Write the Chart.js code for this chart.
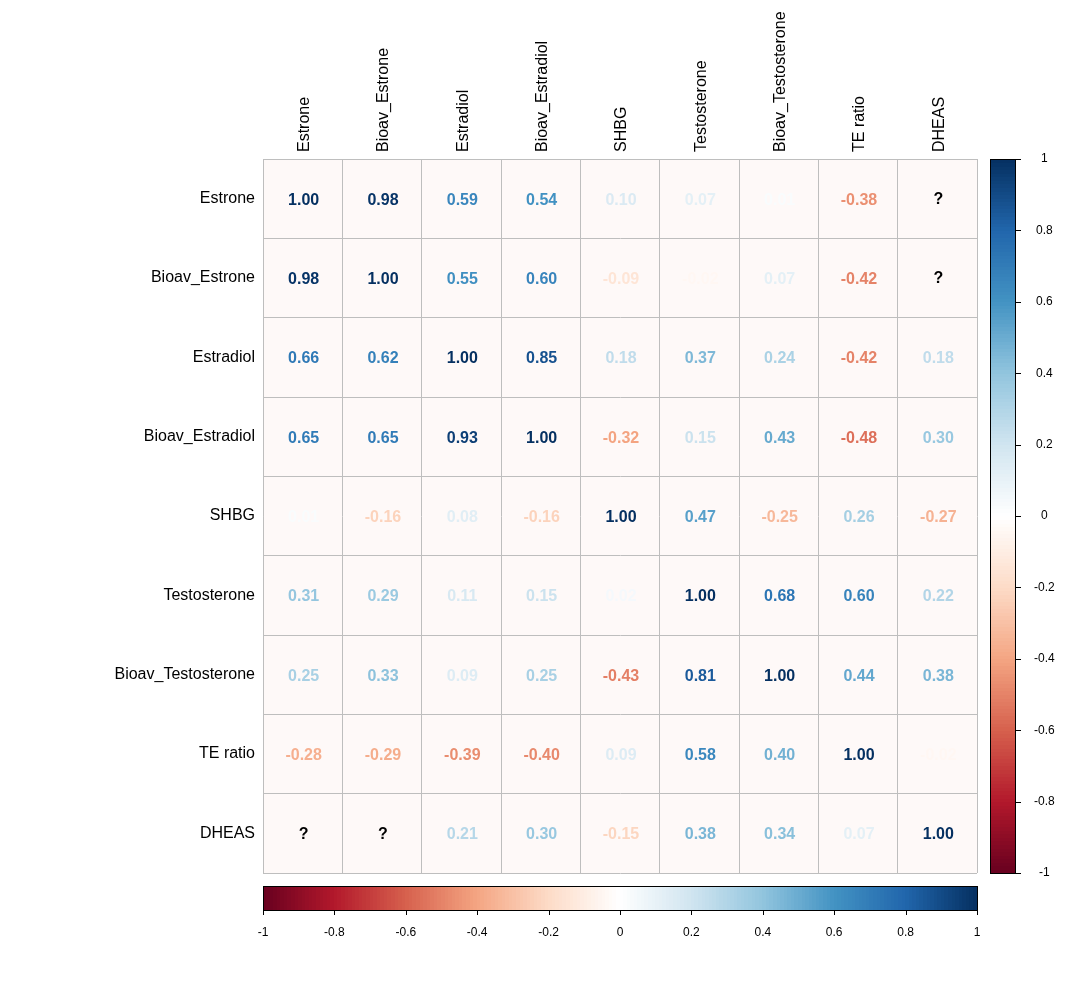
<!DOCTYPE html>
<html>
<head>
<meta charset="utf-8">
<script src="https://cdn.jsdelivr.net/npm/chart.js@4.4.1/dist/chart.umd.min.js"></script>
<style>
  html, body { margin: 0; padding: 0; background: #ffffff; }
  #wrap { width: 1092px; height: 984px; }
</style>
</head>
<body>
<div id="wrap"><canvas id="c" width="1092" height="984"></canvas></div>
<script>
// ---------- data ----------
const variables = ["Estrone", "Bioav_Estrone", "Estradiol", "Bioav_Estradiol", "SHBG",
                   "Testosterone", "Bioav_Testosterone", "TE ratio", "DHEAS"];

// one row of the correlation matrix per array (null = "?")
const rowEstrone           = [1.00, 0.98, 0.59, 0.54, 0.10, 0.07, 0.01, -0.38, null];
const rowBioavEstrone      = [0.98, 1.00, 0.55, 0.60, -0.09, -0.02, 0.07, -0.42, null];
const rowEstradiol         = [0.66, 0.62, 1.00, 0.85, 0.18, 0.37, 0.24, -0.42, 0.18];
const rowBioavEstradiol    = [0.65, 0.65, 0.93, 1.00, -0.32, 0.15, 0.43, -0.48, 0.30];
const rowSHBG              = [0.01, -0.16, 0.08, -0.16, 1.00, 0.47, -0.25, 0.26, -0.27];
const rowTestosterone      = [0.31, 0.29, 0.11, 0.15, 0.02, 1.00, 0.68, 0.60, 0.22];
const rowBioavTestosterone = [0.25, 0.33, 0.09, 0.25, -0.43, 0.81, 1.00, 0.44, 0.38];
const rowTERatio           = [-0.28, -0.29, -0.39, -0.40, 0.09, 0.58, 0.40, 1.00, -0.02];
const rowDHEAS             = [null, null, 0.21, 0.30, -0.15, 0.38, 0.34, 0.07, 1.00];

const matrixRows = [rowEstrone, rowBioavEstrone, rowEstradiol, rowBioavEstradiol, rowSHBG,
                    rowTestosterone, rowBioavTestosterone, rowTERatio, rowDHEAS];

const legendMin = -1, legendMax = 1, legendStep = 0.2;

// RdBu palette (corrplot COL2('RdBu'))
const paletteStops = ["#67001F", "#B2182B", "#D6604D", "#F4A582", "#FDDBC7", "#FFFFFF",
                      "#D1E5F0", "#92C5DE", "#4393C3", "#2166AC", "#053061"];

// ---------- helpers ----------
function hexToRgb(h) {
  return [parseInt(h.slice(1, 3), 16), parseInt(h.slice(3, 5), 16), parseInt(h.slice(5, 7), 16)];
}
const paletteRgb = paletteStops.map(hexToRgb);
function colorFor(v) {
  const t = Math.max(0, Math.min(1, (v - legendMin) / (legendMax - legendMin))) * (paletteRgb.length - 1);
  const i = Math.min(paletteRgb.length - 2, Math.floor(t));
  const f = t - i;
  const a = paletteRgb[i], b = paletteRgb[i + 1];
  const c = a.map((x, k) => Math.round(x + (b[k] - x) * f));
  return `rgb(${c[0]},${c[1]},${c[2]})`;
}
// number text appears slightly stronger than the legend ramp in the reference
function textColorFor(v) {
  return colorFor(Math.sign(v) * Math.pow(Math.abs(v), 0.8));
}
function fmtTick(v) {
  const r = Math.round(v * 10) / 10;
  return (Object.is(r, -0) ? 0 : r).toString();
}

const points = [];
matrixRows.forEach((row, i) => {
  row.forEach((val, j) => {
    points.push({ x: variables[j], y: variables[i], v: val });
  });
});

const FONT = '"Liberation Sans", Arial, Helvetica, sans-serif';
const GRID = '#BEBEBE';
const CELL_BG = '#FEF9F8';

// ---------- plugin ----------
const corrPlugin = {
  id: 'corrPlugin',
  beforeDraw(chart) {
    const ctx = chart.ctx, a = chart.chartArea;
    ctx.save();
    ctx.fillStyle = '#ffffff';
    ctx.fillRect(0, 0, chart.width, chart.height);
    ctx.fillStyle = CELL_BG;
    ctx.fillRect(a.left, a.top, a.right - a.left, a.bottom - a.top);
    ctx.restore();
  },
  afterDatasetsDraw(chart) {
    const ctx = chart.ctx;
    const meta = chart.getDatasetMeta(0);
    const data = chart.data.datasets[0].data;
    ctx.save();
    ctx.textAlign = 'center';
    ctx.textBaseline = 'middle';
    ctx.font = 'bold 16px ' + FONT;
    meta.data.forEach((el, i) => {
      const d = data[i];
      if (d.v === null) {
        ctx.fillStyle = '#000000';
        ctx.fillText('?', el.x + 1, el.y + 1);
      } else {
        ctx.fillStyle = textColorFor(d.v);
        ctx.fillText(d.v.toFixed(2), el.x + 1, el.y + 1.5);
      }
    });
    ctx.restore();
  },
  afterDraw(chart) {
    const ctx = chart.ctx, a = chart.chartArea;
    const cb = chart.scales.cb, cbx = chart.scales.cbx;
    const n = 200, step = (legendMax - legendMin) / n;
    ctx.save();
    // right (vertical) colour bar
    const x0 = a.right + 13, w = 25;
    for (let i = 0; i < n; i++) {
      const v0 = legendMin + i * step, v1 = v0 + step;
      const yA = cb.getPixelForValue(v1), yB = cb.getPixelForValue(v0);
      ctx.fillStyle = colorFor(v0 + step / 2);
      ctx.fillRect(x0, Math.floor(yA), w, Math.ceil(yB) - Math.floor(yA));
    }
    const yTop = cb.getPixelForValue(legendMax), yBot = cb.getPixelForValue(legendMin);
    ctx.strokeStyle = '#000000';
    ctx.lineWidth = 1;
    ctx.strokeRect(x0 + 0.5, Math.round(yTop) + 0.5, w, Math.round(yBot - yTop));
    ctx.beginPath();
    cb.ticks.forEach(t => {
      const y = Math.round(cb.getPixelForValue(t.value)) + 0.5;
      ctx.moveTo(x0 + w, y);
      ctx.lineTo(x0 + w + 6, y);
    });
    ctx.stroke();

    // bottom (horizontal) colour bar
    const y0 = a.bottom + 13, h = 24;
    for (let i = 0; i < n; i++) {
      const v0 = legendMin + i * step, v1 = v0 + step;
      const xA = cbx.getPixelForValue(v0), xB = cbx.getPixelForValue(v1);
      ctx.fillStyle = colorFor(v0 + step / 2);
      ctx.fillRect(Math.floor(xA), y0, Math.ceil(xB) - Math.floor(xA), h);
    }
    const xL = cbx.getPixelForValue(legendMin), xR = cbx.getPixelForValue(legendMax);
    ctx.strokeRect(Math.round(xL) + 0.5, y0 + 0.5, Math.round(xR - xL), h);
    ctx.beginPath();
    cbx.ticks.forEach(t => {
      const x = Math.round(cbx.getPixelForValue(t.value)) + 0.5;
      ctx.moveTo(x, y0 + h);
      ctx.lineTo(x, y0 + h + 5);
    });
    ctx.stroke();
    ctx.restore();
  }
};

// ---------- chart ----------
new Chart(document.getElementById('c'), {
  type: 'scatter',
  data: {
    datasets: [{
      data: points,
      pointRadius: 0,
      pointHoverRadius: 0,
      xAxisID: 'x',
      yAxisID: 'y'
    }]
  },
  options: {
    responsive: false,
    animation: false,
    devicePixelRatio: 1,
    layout: { padding: 0 },
    plugins: { legend: { display: false }, tooltip: { enabled: false } },
    events: [],
    scales: {
      x: {
        type: 'category', axis: 'x', position: 'top', labels: variables, offset: true,
        grid: { offset: true, color: GRID, lineWidth: 1, drawTicks: false },
        border: { display: true, color: GRID },
        ticks: { autoSkip: false, minRotation: 90, maxRotation: 90, padding: 7, labelOffset: 21,
                 color: '#000000', font: { family: FONT, size: 16 } },
        afterFit(s) { s.height = 159; }
      },
      y: {
        type: 'category', axis: 'y', position: 'left', labels: variables, offset: true,
        grid: { offset: true, color: GRID, lineWidth: 1, drawTicks: false },
        border: { display: true, color: GRID },
        ticks: { autoSkip: false, padding: 8, color: '#000000', font: { family: FONT, size: 16 } },
        afterFit(s) { s.width = 263; }
      },
      cb: {
        type: 'linear', axis: 'y', position: 'right', min: legendMin, max: legendMax,
        grid: { display: false, drawTicks: false },
        border: { display: false },
        ticks: { stepSize: legendStep, callback: v => fmtTick(v), crossAlign: 'center', padding: 57,
                 color: '#000000', font: { family: FONT, size: 12 } },
        afterFit(s) { s.width = 115; }
      },
      cbx: {
        type: 'linear', axis: 'x', position: 'bottom', min: legendMin, max: legendMax,
        grid: { display: false, drawTicks: false },
        border: { display: false },
        ticks: { stepSize: legendStep, callback: v => fmtTick(v), autoSkip: false, maxRotation: 0,
                 padding: 52, color: '#000000', font: { family: FONT, size: 12 } },
        afterFit(s) { s.height = 111; }
      }
    }
  },
  plugins: [corrPlugin]
});
</script>
</body>
</html>
